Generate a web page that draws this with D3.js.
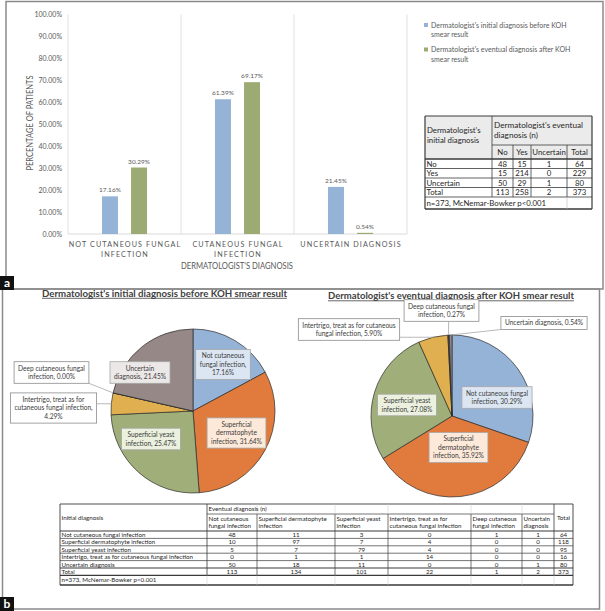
<!DOCTYPE html>
<html><head><meta charset="utf-8">
<script src="https://cdn.jsdelivr.net/npm/d3@7"></script>
<style>
html,body{margin:0;padding:0;background:#fff;}
svg{display:block;font-family:Lato,"Open Sans",sans-serif;}
</style></head><body>
<svg id="c" width="605" height="611"></svg>
<script>
// ---------------- DATA ----------------
const barCategories = ["NOT CUTANEOUS FUNGAL INFECTION", "CUTANEOUS FUNGAL INFECTION", "UNCERTAIN DIAGNOSIS"];
const barCategoryLines = [["NOT CUTANEOUS FUNGAL", "INFECTION"], ["CUTANEOUS FUNGAL", "INFECTION"], ["UNCERTAIN DIAGNOSIS"]];
const barSeries = ["Dermatologist's initial diagnosis before KOH smear result", "Dermatologist's eventual diagnosis after KOH smear result"];
const barSeriesLines = [["Dermatologist's initial diagnosis before KOH", "smear result"], ["Dermatologist's eventual diagnosis after KOH", "smear result"]];
const initialPct = [0.1716, 0.6139, 0.2145];
const eventualPct = [0.3029, 0.6917, 0.0054];
const yTicks = [0, 0.1, 0.2, 0.3, 0.4, 0.5, 0.6, 0.7, 0.8, 0.9, 1.0];

const smallColHeaders = ["No", "Yes", "Uncertain", "Total"];
const smallRowHeaders = ["No", "Yes", "Uncertain", "Total"];
const smallValues = [[48, 15, 1, 64], [15, 214, 0, 229], [50, 29, 1, 80], [113, 258, 2, 373]];
const statNote = "n=373, McNemar-Bowker p<0.001";

const pieCategories = ["Not cutaneous fungal infection", "Superficial dermatophyte infection", "Superficial yeast infection",
  "Intertrigo, treat as for cutaneous fungal infection", "Deep cutaneous fungal infection", "Uncertain diagnosis"];
const pieInitialPct = [17.16, 31.64, 25.47, 4.29, 0.00, 21.45];
const pieEventualPct = [30.29, 35.92, 27.08, 5.90, 0.27, 0.54];
const pie1Title = "Dermatologist's initial diagnosis before KOH smear result";
const pie2Title = "Dermatologist's eventual diagnosis after KOH smear result";
const pie1Lines = [["Not cutaneous", "fungal infection,", "{v}"], ["Superficial", "dermatophyte", "infection, {v}"], ["Superficial yeast", "infection, {v}"],
  ["Intertrigo, treat as for", "cutaneous fungal infection,", "{v}"], ["Deep cutaneous fungal", "infection, {v}"], ["Uncertain", "diagnosis, {v}"]];
const pie2Lines = [["Not cutaneous fungal", "infection, {v}"], ["Superficial", "dermatophyte", "infection, {v}"], ["Superficial yeast", "infection, {v}"],
  ["Intertrigo, treat as for cutaneous", "fungal infection, {v}"], ["Deep cutaneous fungal", "infection, {v}"], ["Uncertain diagnosis, {v}"]];

const bigColHeaders = [["Not cutaneous", "fungal infection"], ["Superficial dermatophyte", "infection"], ["Superficial yeast", "infection"],
  ["Intertrigo, treat as for", "cutaneous fungal infection"], ["Deep cutaneous", "fungal infection"], ["Uncertain", "diagnosis"]];
const bigRowHeaders = ["Not cutaneous fungal infection", "Superficial dermatophyte infection", "Superficial yeast infection",
  "Intertrigo, treat as for cutaneous fungal infection", "Uncertain diagnosis", "Total"];
const bigValues = [[48, 11, 3, 0, 1, 1, 64], [10, 97, 7, 4, 0, 0, 118], [5, 7, 79, 4, 0, 0, 95], [0, 1, 1, 14, 0, 0, 16],
  [50, 18, 11, 0, 0, 1, 80], [113, 134, 101, 22, 1, 2, 373]];

// ---------------- STYLE / LAYOUT ----------------
const barColors = ["#95b3d7", "#9cab74"];
const pieColors = ["#95b3d7", "#e07b3d", "#a0ae79", "#e0b050", "#3f3f55", "#958886"];
const labelFills = ["#dce6f2", "#fde9d9", "#ebf1de", "#ffffff", "#ffffff", "#ece8e8"];
const axisGray = "#595959";

const svg = d3.select("#c");

// panel frames
svg.append("rect").attr("x", 6).attr("y", 1.5).attr("width", 597).attr("height", 287.5)
  .attr("fill", "none").attr("stroke", "#8a8a8a").attr("stroke-width", 1.5);
svg.append("rect").attr("x", 2.5).attr("y", 289).attr("width", 597).attr("height", 320)
  .attr("fill", "none").attr("stroke", "#8a8a8a").attr("stroke-width", 1.5);

function panelTag(x, y, t) {
  svg.append("rect").attr("x", x).attr("y", y).attr("width", 14).attr("height", 14).attr("fill", "#111");
  svg.append("text").attr("x", x + 7).attr("y", y + 10.5).attr("text-anchor", "middle").attr("fill", "#fff")
    .attr("font-size", 12).attr("font-weight", "bold").text(t);
}
panelTag(0, 276, "a");
panelTag(0, 597, "b");

// ---------------- BAR CHART ----------------
const x0 = d3.scaleBand().domain(d3.range(barCategories.length)).range([68, 407]);
const x1 = d3.scaleBand().domain([0, 1]).range([0, x0.bandwidth()]).paddingInner(0.45).paddingOuter(1.17);
const y = d3.scaleLinear().domain([0, 1]).range([234, 14.5]);

const bar = svg.append("g");
const seps = x0.domain().map(d => x0(d)).concat([x0.range()[1]]);
bar.selectAll("line.sep").data(seps).join("line").attr("class", "sep")
  .attr("x1", d => d).attr("x2", d => d).attr("y1", y(1)).attr("y2", y(0))
  .attr("stroke", "#d9d9d9").attr("stroke-width", 0.8);
bar.append("line").attr("x1", x0.range()[0]).attr("x2", x0.range()[1]).attr("y1", y(0)).attr("y2", y(0))
  .attr("stroke", "#d0d0d0").attr("stroke-width", 0.8);

const yAxis = bar.append("g").attr("transform", "translate(62,0)")
  .call(d3.axisLeft(y).tickValues(yTicks).tickSize(0).tickPadding(0).tickFormat(d3.format(".2%")));
yAxis.select(".domain").remove();
yAxis.selectAll("text").attr("font-size", 7).attr("fill", axisGray).attr("font-family", "Lato");

const series = [initialPct, eventualPct];
series.forEach((vals, s) => {
  const g = bar.append("g");
  g.selectAll("rect").data(vals).join("rect")
    .attr("x", (d, i) => x0(i) + x1(s)).attr("width", x1.bandwidth())
    .attr("y", d => y(d)).attr("height", d => y(0) - y(d)).attr("fill", barColors[s]);
  g.selectAll("text").data(vals).join("text")
    .attr("x", (d, i) => x0(i) + x1(s) + x1.bandwidth() / 2).attr("y", d => y(d) - 4)
    .attr("text-anchor", "middle").attr("font-size", 6.5).attr("fill", axisGray)
    .text(d => d3.format(".2%")(d));
});

barCategoryLines.forEach((lines, i) => {
  const t = bar.append("text").attr("text-anchor", "middle").attr("font-size", 7.2).attr("fill", axisGray)
    .attr("letter-spacing", 1.1);
  lines.forEach((l, k) => t.append("tspan").attr("x", x0(i) + x0.bandwidth() / 2 + 0.5).attr("y", 246.5 + k * 10).text(l));
});

bar.append("text").attr("transform", "translate(33,123) rotate(-90)").attr("text-anchor", "middle")
  .attr("font-size", 8.8).attr("fill", axisGray).attr("textLength", 95).attr("lengthAdjust", "spacingAndGlyphs")
  .text("PERCENTAGE OF PATIENTS");
bar.append("text").attr("x", 237).attr("y", 269).attr("text-anchor", "middle")
  .attr("font-size", 8.8).attr("fill", axisGray).attr("textLength", 112).attr("lengthAdjust", "spacingAndGlyphs")
  .text("DERMATOLOGIST'S DIAGNOSIS");

// legend
barSeriesLines.forEach((lines, s) => {
  const ly = 25 + s * 24.5;
  svg.append("rect").attr("x", 424).attr("y", ly - 2).attr("width", 4).attr("height", 4).attr("fill", barColors[s]);
  lines.forEach((l, k) => svg.append("text").attr("x", 431).attr("y", ly + 2.5 + k * 9.5)
    .attr("font-size", 7).attr("fill", axisGray).text(l));
});

// ---------------- SMALL TABLE ----------------
(function () {
  const sx = [425, 492, 513, 531, 567, 592];
  const sy = [116, 145, 159, 168.5, 178, 187.5, 197, 209];
  const g = svg.append("g").attr("font-size", 7.8).attr("fill", "#262626");
  g.append("rect").attr("x", sx[0]).attr("y", sy[0]).attr("width", sx[5] - sx[0]).attr("height", sy[2] - sy[0]).attr("fill", "#ebebeb");
  const L = (x1_, y1_, x2_, y2_, w, c) => g.append("line").attr("x1", x1_).attr("y1", y1_).attr("x2", x2_).attr("y2", y2_)
    .attr("stroke", c || "#3a3a3a").attr("stroke-width", w || 0.8);
  // horizontal
  L(sx[0], sy[0], sx[5], sy[0], 1.2);
  L(sx[1], sy[1], sx[5], sy[1], 0.8);
  for (let r = 2; r <= 7; r++) L(sx[0], sy[r], sx[5], sy[r], r === 2 || r === 7 ? 1.4 : 0.8);
  L(sx[0], sy[0], sx[0], sy[7], 1.2); L(sx[5], sy[0], sx[5], sy[7], 1.2);
  L(sx[1], sy[0], sx[1], sy[6], 0.8);
  for (let c = 2; c <= 4; c++) L(sx[c], sy[1], sx[c], sy[6], 0.8);
  L(sx[4], sy[6], sx[4], sy[7], 0.6, "#bbb");
  // header texts
  [["Dermatologist's", 130], ["initial diagnosis", 139.5]].forEach(([t, yy]) => g.append("text").attr("x", sx[0] + 2).attr("y", yy + 3).text(t));
  [["Dermatologist's eventual", 124.5], ["diagnosis (n)", 135]].forEach(([t, yy]) => g.append("text").attr("x", sx[1] + 2).attr("y", yy + 3).attr("font-size", 8.2).text(t));
  smallColHeaders.forEach((h, c) => g.append("text").attr("x", (sx[c + 1] + sx[c + 2]) / 2).attr("y", (sy[1] + sy[2]) / 2 + 2.8)
    .attr("text-anchor", "middle").text(h));
  smallRowHeaders.forEach((h, r) => {
    const cy = (sy[r + 2] + sy[r + 3]) / 2 + 2.8;
    g.append("text").attr("x", sx[0] + 1.5).attr("y", cy).text(h);
    smallValues[r].forEach((v, c) => g.append("text").attr("x", (sx[c + 1] + sx[c + 2]) / 2).attr("y", cy).attr("text-anchor", "middle").text(v));
  });
  g.append("text").attr("x", sx[0] + 1.5).attr("y", (sy[6] + sy[7]) / 2 + 2.8).text(statNote);
})();

// ---------------- PIES ----------------
function drawPie(cx, cy, r, values, linesTpl, outside, offsets, title, titleX, titleY, titleLen) {
  const g = svg.append("g");
  const t = g.append("text").attr("x", titleX).attr("y", titleY).attr("text-anchor", "middle").attr("font-size", 9)
    .attr("font-weight", "bold").attr("fill", "#404040").attr("textLength", titleLen).attr("lengthAdjust", "spacingAndGlyphs").text(title);
  g.append("line").attr("x1", titleX - titleLen / 2).attr("x2", titleX + titleLen / 2).attr("y1", titleY + 1.8).attr("y2", titleY + 1.8)
    .attr("stroke", "#404040").attr("stroke-width", 0.8);

  const arcs = d3.pie().sort(null).value(d => d)(values);
  const arc = d3.arc().innerRadius(0).outerRadius(r);
  const pg = g.append("g").attr("transform", `translate(${cx},${cy})`);
  pg.selectAll("path").data(arcs).join("path").attr("d", arc)
    .attr("fill", (d, i) => pieColors[i]).attr("stroke", "#2b2b2b").attr("stroke-width", 0.7);

  const lh = 8.6, padX = 4, padY = 2.2;
  arcs.forEach((a, i) => {
    const lines = linesTpl[i].map(s => s.replace("{v}", values[i].toFixed(2) + "%"));
    const lx = cx + offsets[i][0], ly = cy + offsets[i][1];
    const lg = g.append("g");
    const txt = lg.append("text").attr("text-anchor", "middle").attr("font-size", 6.6).attr("fill", "#3a3a3a");
    lines.forEach((l, k) => txt.append("tspan").attr("x", lx).attr("y", ly + (k - (lines.length - 1) / 2) * lh + 2.3).text(l));
    const w = d3.max(txt.selectAll("tspan").nodes(), n => n.getComputedTextLength());
    const bx = lx - w / 2 - padX, by = ly - lines.length * lh / 2 - padY, bw = w + 2 * padX, bh = lines.length * lh + 2 * padY;
    lg.insert("rect", "text").attr("x", bx).attr("y", by).attr("width", bw).attr("height", bh)
      .attr("fill", outside[i] ? "#fff" : labelFills[i]).attr("stroke", outside[i] ? "#8c8c8c" : "#a6a6a6").attr("stroke-width", 0.8);
    if (outside[i]) {
      const mid = (a.startAngle + a.endAngle) / 2;
      const px = cx + r * Math.sin(mid), py = cy - r * Math.cos(mid);
      const qx = Math.max(bx, Math.min(bx + bw, px)), qy = Math.max(by, Math.min(by + bh, py));
      lg.append("line").attr("x1", qx).attr("y1", qy).attr("x2", px).attr("y2", py).attr("stroke", "#a6a6a6").attr("stroke-width", 0.8);
    }
  });
}
drawPie(193, 411, 82, pieInitialPct, pie1Lines, [0, 0, 0, 1, 1, 0],
  [[30, -46.5], [43.5, 22], [-42, 28], [-139.5, -3], [-141.5, -38.5], [-53, -38.5]],
  pie1Title, 164.5, 296.5, 245);
drawPie(452, 416, 81, pieEventualPct, pie2Lines, [0, 0, 0, 1, 1, 1],
  [[45, -18.5], [6.5, 31.5], [-45, -11], [-103, -86.5], [-10.5, -105.5], [92, -93]],
  pie2Title, 451, 299, 246);

// ---------------- BIG TABLE ----------------
(function () {
  const tx = [60, 207, 257, 335, 388, 471, 522, 554, 573];
  const rowH = 7.4;
  const top = 504, h1 = 514, h2 = 531;
  const ry = d3.range(bigRowHeaders.length + 1).map(k => h2 + k * rowH);
  const bottom = 585;
  const g = svg.append("g").attr("font-size", 6.2).attr("fill", "#262626");
  const L = (a, b, c, d, w, col) => g.append("line").attr("x1", a).attr("y1", b).attr("x2", c).attr("y2", d)
    .attr("stroke", col || "#3a3a3a").attr("stroke-width", w || 0.7);
  L(tx[0], top, tx[8], top, 0.9);
  L(tx[1], h1, tx[7], h1, 0.7);
  L(tx[0], h2, tx[8], h2, 1.2);
  ry.slice(1).forEach((yy, k) => L(tx[0], yy, tx[8], yy, k === ry.length - 2 || k === ry.length - 3 ? 1.1 : 0.7));
  L(tx[0], bottom, tx[8], bottom, 1.4);
  L(tx[0], top, tx[0], bottom, 0.9); L(tx[8], top, tx[8], bottom, 0.9);
  L(tx[1], top, tx[1], ry[ry.length - 1], 0.8);
  for (let c = 2; c <= 6; c++) { L(tx[c], top, tx[c], h1, 0.5, "#c8c8c8"); L(tx[c], h1, tx[c], ry[ry.length - 1], 0.7); }
  L(tx[7], top, tx[7], ry[ry.length - 1], 0.8);
  for (let c = 1; c <= 7; c++) L(tx[c], ry[ry.length - 1], tx[c], bottom, 0.5, "#c8c8c8");

  g.append("text").attr("x", tx[0] + 1.5).attr("y", (top + h2) / 2 + 2.2).text("Initial diagnosis");
  g.append("text").attr("x", tx[1] + 1.5).attr("y", (top + h1) / 2 + 2.2).text("Eventual diagnosis (n)");
  bigColHeaders.forEach((ls, c) => ls.forEach((l, k) => g.append("text").attr("x", tx[c + 1] + 1.5).attr("y", h1 + 6.8 + k * 7).text(l)));
  g.append("text").attr("x", (tx[7] + tx[8]) / 2).attr("y", (top + h2) / 2 + 2.2).attr("text-anchor", "middle").text("Total");
  bigRowHeaders.forEach((rh, r) => {
    const cy = (ry[r] + ry[r + 1]) / 2 + 2.2;
    g.append("text").attr("x", tx[0] + 1.5).attr("y", cy).text(rh);
    bigValues[r].forEach((v, c) => g.append("text").attr("x", (tx[c + 1] + tx[c + 2]) / 2).attr("y", cy).attr("text-anchor", "middle").text(v));
  });
  g.append("text").attr("x", tx[0] + 1.5).attr("y", (ry[ry.length - 1] + bottom) / 2 + 2.2).text(statNote);
})();
</script>
</body></html>
